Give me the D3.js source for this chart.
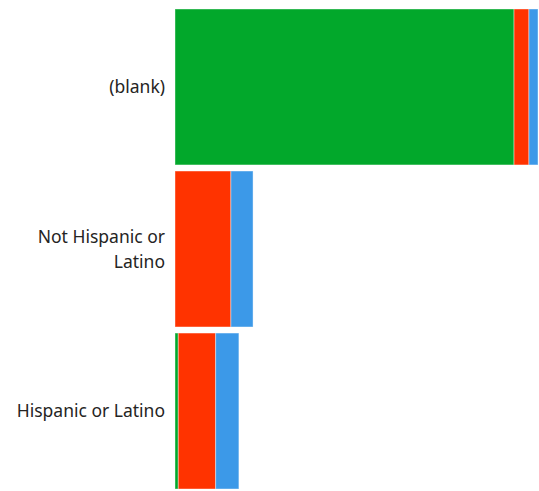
<!DOCTYPE html>
<html>
<head>
<meta charset="utf-8">
<script src="https://cdn.jsdelivr.net/npm/d3@7"></script>
<style>
  body { margin: 0; background: #fff; }
  text { font-family: "Noto Sans", sans-serif; fill: #252423; }
</style>
</head>
<body>
<svg id="chart"></svg>
<script>
const w = 539;
const h = 491;

// Data
const categories = ['(blank)', 'Not Hispanic or Latino', 'Hispanic or Latino'];
const seriesNames = ['s1', 's2', 's3'];
const s1Values = [934, 0, 9];
const s2Values = [41, 154, 103];
const s3Values = [25, 61, 64];
const colors = ['#02a82b', '#ff3300', '#3c99e8'];

const rows = categories.map(function(c, i) {
  return { cat: c, s1: s1Values[i], s2: s2Values[i], s3: s3Values[i] };
});

const stack = d3.stack().keys(seriesNames);
const layers = stack(rows);

const x = d3.scaleLinear()
    .domain([0, d3.max(rows, function(d){ return d.s1 + d.s2 + d.s3; })])
    .range([175, 538]);

const y = d3.scaleBand()
    .domain(categories)
    .range([9, 489])
    .paddingInner(0.0375)
    .paddingOuter(0);

const svg = d3.select('#chart')
  .attr('width', w)
  .attr('height', h);

svg.selectAll('g.layer')
  .data(layers)
  .enter()
  .append('g')
  .attr('class', 'layer')
  .attr('fill', function(d, i){ return colors[i]; })
  .selectAll('rect')
  .data(function(d){ return d; })
  .enter()
  .append('rect')
  .attr('x', function(d){ return x(d[0]); })
  .attr('y', function(d){ return y(d.data.cat); })
  .attr('width', function(d){ return x(d[1]) - x(d[0]); })
  .attr('height', y.bandwidth())
  .style('stroke', '#fff')
  .style('stroke-opacity', 0.4)
  .style('stroke-width', 1);

// Category labels, wrapped
const labels = svg.selectAll('text.cat')
  .data(categories)
  .enter()
  .append('text')
  .attr('class', 'cat')
  .attr('text-anchor', 'end')
  .style('font-size', '17.5px')
  .each(function(d) {
    const el = d3.select(this);
    const words = d.split(' ');
    const lines = [];
    let line = [];
    const probe = el.append('tspan');
    words.forEach(function(word) {
      line.push(word);
      probe.text(line.join(' '));
      if (probe.node().getComputedTextLength() > 165 && line.length > 1) {
        line.pop();
        lines.push(line.join(' '));
        line = [word];
      }
    });
    lines.push(line.join(' '));
    probe.remove();
    const cy = y(d) + y.bandwidth() / 2;
    const lh = 25;
    const top = cy - (lines.length - 1) * lh / 2;
    lines.forEach(function(l, i) {
      el.append('tspan')
        .attr('x', 165)
        .attr('y', top + i * lh)
        .attr('dy', '0.35em')
        .text(l);
    });
  });
</script>
</body>
</html>
